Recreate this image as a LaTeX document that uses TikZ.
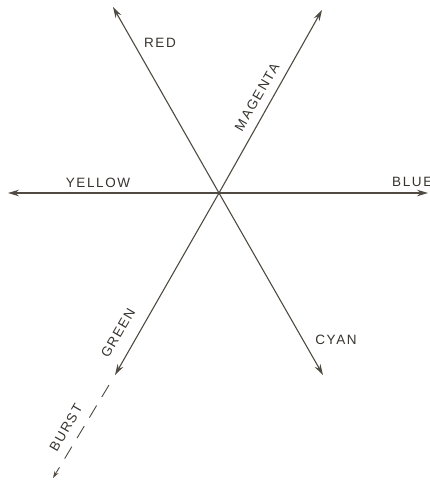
\documentclass[tikz,border=0pt]{standalone}
\usepackage{fontspec}
\usetikzlibrary{arrows.meta,calc}
\newfontfamily\labfont[LetterSpace=12]{Liberation Sans}
\definecolor{ink}{RGB}{80,75,66}
\definecolor{txt}{RGB}{55,52,47}
\tikzset{
  vec/.style={draw=ink, line width=1.1pt, -{Stealth[length=11pt,width=6.5pt]}},
  burstline/.style={draw=ink, line width=0.9pt, dash pattern=on 14pt off 10pt},
  lab/.style={text=txt, font=\labfont\fontsize{13.5}{14}\selectfont, inner sep=0pt}
}
\begin{document}
\begin{tikzpicture}[x=1pt,y=-1pt]
\useasboundingbox[fill=white] (0,0) rectangle (430,480);
\coordinate (o) at (219,193);
\coordinate (r) at (113,7);
\coordinate (m) at (322,10);
\coordinate (y) at (8,193);
\coordinate (b) at (428,193);
\coordinate (c) at (323,375);
\coordinate (g) at (115,375);
\coordinate (bs) at (109,385);
\coordinate (be) at (53,478);
\draw[vec] (o) -- (r);
\draw[vec] (o) -- (m);
\draw[vec] (o) -- (y);
\draw[vec] (o) -- (b);
\draw[vec] (o) -- (c);
\draw[vec] (o) -- (g);
\coordinate (bt) at ($(be)!0.06!(bs)$);
\draw[burstline] (bs) -- (bt);
\draw[draw=ink, line width=0.9pt, -{Stealth[length=7pt,width=4.5pt]}] (bt) -- (be);
\node[lab] (lred) at (160,43) {RED};
\node[lab, rotate=60] (lmag) at (257,97) {MAGENTA};
\node[lab] (lyel) at (98,183) {YELLOW};
\node[lab, anchor=west] (lblu) at (392,182) {BLUE};
\node[lab] (lcya) at (336,340) {CYAN};
\node[lab, rotate=60] (lgre) at (118,333) {GREEN};
\node[lab, rotate=60] (lbur) at (66,428) {BURST};
\end{tikzpicture}
\end{document}
